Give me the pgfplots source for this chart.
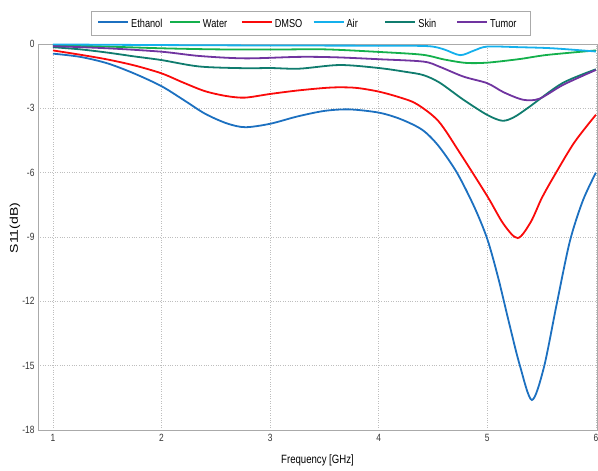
\documentclass[border=0pt]{standalone}
\usepackage{fontspec}
\setmainfont{Liberation Sans}[FakeStretch=0.8]
\newfontfamily\plainsans{Liberation Sans}
\usepackage{graphicx}
\usepackage{pgfplots}
\pgfplotsset{compat=1.18}
\definecolor{ethanol}{RGB}{28,112,192}
\definecolor{water}{RGB}{20,176,76}
\definecolor{dmso}{RGB}{250,10,10}
\definecolor{air}{RGB}{20,176,236}
\definecolor{skin}{RGB}{16,124,110}
\definecolor{tumor}{RGB}{112,52,160}
\definecolor{gridc}{RGB}{190,190,190}
\definecolor{axc}{RGB}{170,170,170}
\newcommand{\lent}[1]{\makebox[32pt][l]{\strut #1}}
\begin{document}
\begin{tikzpicture}
\begin{axis}[
  scale only axis, width=559pt, height=386pt,
  xmin=0.862, xmax=6.01, ymin=-18, ymax=0,
  xtick={1,2,3,4,5,6}, ytick={-18,-15,-12,-9,-6,-3,0},
  xticklabels={1,2,3,4,5,6},
  yticklabels={-18,-15,-12,-9,-6,-3,0},
  tick style={draw=none},
  grid=major,
  grid style={gridc, dotted, line width=0.8pt},
  axis line style={axc, line width=0.8pt},
  tick label style={font=\fontsize{10.5}{11}\selectfont, text=black!80},
  xticklabel style={yshift=-1pt},
  yticklabel style={xshift=0pt},
  xlabel={\fontsize{12}{13}\selectfont Frequency [GHz]},
  xlabel style={at={(axis description cs:0.5,-0.078)}, anchor=center},
  ylabel={\scalebox{1}[0.8]{\plainsans\fontsize{14}{15}\selectfont S11(dB)}},
  ylabel style={at={(axis description cs:-0.041,0.523)}, anchor=center},
  legend columns=6,
  legend image code/.code={\draw[#1] (0pt,1.6pt) -- (30pt,1.6pt);},
  legend style={at={(axis description cs:0.488,1)}, anchor=south, yshift=8pt,
    draw=axc, line width=0.8pt, font=\fontsize{11.5}{12}\selectfont,
    inner xsep=6pt, inner ysep=5pt,
    /tikz/every even column/.append style={column sep=4pt},
    /tikz/every odd column/.append style={column sep=0pt}},
  legend cell align=left,
  every axis plot/.append style={line width=1.8pt, smooth, tension=0.5},
]
\addplot[ethanol] coordinates {
(1,-0.45) (1.25,-0.6) (1.5,-0.9) (1.75,-1.38) (2,-1.97) (2.2,-2.6) (2.4,-3.25)
(2.6,-3.7) (2.77,-3.88) (3.0,-3.72) (3.25,-3.38) (3.5,-3.12) (3.73,-3.05)
(4.0,-3.2) (4.2,-3.5) (4.4,-4.0) (4.55,-4.75) (4.72,-6.0) (4.88,-7.6)
(5.0,-9.1) (5.1,-10.9) (5.2,-13.0) (5.3,-15.0) (5.41,-16.6) (5.52,-15.1)
(5.64,-12.1) (5.76,-9.2) (5.88,-7.3) (6,-6.0)};
\addlegendentry{\lent{Ethanol}}
\addplot[water] coordinates {
(1,-0.05) (1.5,-0.12) (2,-0.2) (2.5,-0.25) (3,-0.26) (3.5,-0.25) (4,-0.37)
(4.4,-0.5) (4.6,-0.72) (4.8,-0.88) (5.0,-0.87) (5.3,-0.7) (5.55,-0.51) (6,-0.3)};
\addlegendentry{\lent{Water}}
\addplot[dmso] coordinates {
(1,-0.3) (1.25,-0.5) (1.5,-0.72) (1.75,-1.0) (2.0,-1.37) (2.2,-1.8) (2.4,-2.2)
(2.6,-2.43) (2.77,-2.5) (3.0,-2.33) (3.25,-2.17) (3.5,-2.05) (3.64,-2.02)
(3.8,-2.05) (4.0,-2.22) (4.2,-2.5) (4.35,-2.8) (4.55,-3.6) (4.75,-5.1)
(5.0,-7.1) (5.15,-8.4) (5.28,-9.05) (5.4,-8.3) (5.5,-7.2) (5.61,-6.2)
(5.8,-4.6) (6.0,-3.3)};
\addlegendentry{\lent{DMSO}}
\addplot[air] coordinates {
(1,-0.02) (2,-0.05) (3,-0.07) (4,-0.08) (4.45,-0.1) (4.6,-0.25) (4.75,-0.52)
(4.88,-0.3) (5.0,-0.12) (5.3,-0.15) (5.6,-0.2) (6,-0.35)};
\addlegendentry{\lent{Air}}
\addplot[skin] coordinates {
(1,-0.15) (1.25,-0.25) (1.5,-0.4) (1.75,-0.58) (2,-0.75) (2.35,-1.05)
(2.77,-1.13) (3.0,-1.12) (3.27,-1.15) (3.64,-0.98) (4.0,-1.12) (4.25,-1.3)
(4.41,-1.45) (4.56,-1.8) (4.78,-2.6) (5.0,-3.31) (5.14,-3.58) (5.25,-3.4)
(5.39,-2.92) (5.69,-1.83) (6,-1.18)};
\addlegendentry{\lent{Skin}}
\addplot[tumor] coordinates {
(1,-0.1) (1.5,-0.2) (2,-0.36) (2.35,-0.56) (2.77,-0.67) (3.27,-0.6)
(3.6,-0.62) (4.0,-0.71) (4.41,-0.82) (4.56,-1.06) (4.78,-1.52) (5.0,-1.83)
(5.15,-2.25) (5.33,-2.6) (5.48,-2.55) (5.7,-1.9) (6,-1.21)};
\addlegendentry{\lent{Tumor}}
\end{axis}
\pgfresetboundingbox
\path[use as bounding box] (-38pt,-41pt) rectangle (560pt,430pt);
\end{tikzpicture}
\end{document}
